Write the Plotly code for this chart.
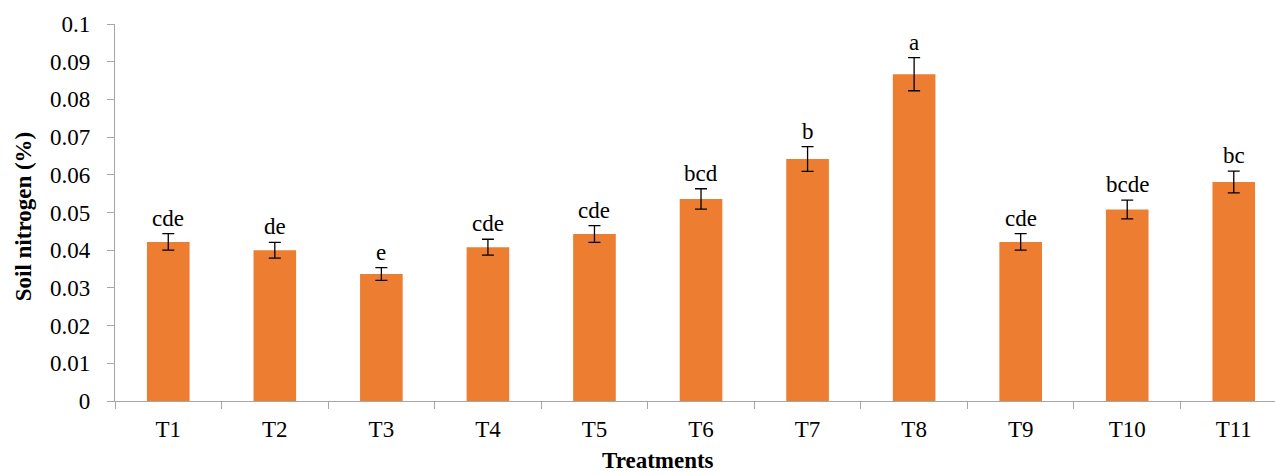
import plotly.graph_objects as go

# Soil nitrogen by treatment
treatments = ["T1", "T2", "T3", "T4", "T5", "T6", "T7", "T8", "T9", "T10", "T11"]
nitrogen = [0.0422, 0.0400, 0.0337, 0.0408, 0.0443, 0.0536, 0.0642, 0.0867, 0.0422, 0.0508, 0.0581]
std_err = [0.0022, 0.0021, 0.0017, 0.0021, 0.0022, 0.0027, 0.0033, 0.0044, 0.0022, 0.0025, 0.0029]
letters = ["cde", "de", "e", "cde", "cde", "bcd", "b", "a", "cde", "bcde", "bc"]
y_ticks = [0, 0.01, 0.02, 0.03, 0.04, 0.05, 0.06, 0.07, 0.08, 0.09, 0.1]
y_tick_text = ["0", "0.01", "0.02", "0.03", "0.04", "0.05", "0.06", "0.07", "0.08", "0.09", "0.1"]

FONT = "'Liberation Serif', 'DejaVu Serif', 'Times New Roman', serif"
W, H = 1275, 474
ML, MT, MB = 115, 24, 73
PLOT_H = H - MT - MB

fig = go.Figure()
fig.add_trace(go.Bar(
    x=treatments,
    y=nitrogen,
    width=0.4,
    marker=dict(color="#ED7D31", line=dict(width=0)),
    error_y=dict(type="data", array=std_err, visible=True,
                 color="#000000", thickness=1.3, width=6),
    showlegend=False,
))

# Significance letters above the error bars
for t, v, e, s in zip(treatments, nitrogen, std_err, letters):
    fig.add_annotation(x=t, y=v + e, text=s, showarrow=False,
                       xref="x", yref="y", yanchor="bottom", yshift=1,
                       font=dict(family=FONT, size=23, color="#000000"))

# Axis titles
fig.add_annotation(text="<b>Soil nitrogen (%)</b>", textangle=-90,
                   xref="paper", yref="paper",
                   x=(23 - ML) / (W - ML), y=0.49,
                   showarrow=False, xanchor="center", yanchor="middle",
                   font=dict(family=FONT, size=23, color="#000000"))
fig.add_annotation(text="<b>Treatments</b>",
                   xref="paper", yref="paper",
                   x=(658 - ML) / (W - ML), y=-MB / PLOT_H,
                   showarrow=False, xanchor="center", yanchor="bottom",
                   borderpad=0,
                   font=dict(family=FONT, size=23, color="#000000"))

fig.update_layout(
    width=W, height=H,
    margin=dict(l=ML, r=0, t=MT, b=MB, pad=0),
    plot_bgcolor="white", paper_bgcolor="white",
    font=dict(family=FONT, size=23, color="#000000"),
    bargap=0.6,
)
fig.update_xaxes(
    type="category",
    range=[-0.5, 10.387],
    showline=True, linecolor="#A6A6A6", linewidth=1.3,
    ticks="outside", tickson="boundaries", ticklen=7,
    tickcolor="#A6A6A6", tickwidth=1.3,
    ticklabelstandoff=7,
    showgrid=False, zeroline=False,
    tickfont=dict(family=FONT, size=23, color="#000000"),
)
fig.update_yaxes(
    range=[0, 0.1],
    tickvals=y_ticks, ticktext=y_tick_text,
    showline=True, linecolor="#A6A6A6", linewidth=1.3,
    ticks="outside", ticklen=7, tickcolor="#A6A6A6", tickwidth=1.3,
    ticklabelstandoff=12,
    showgrid=False, zeroline=False,
    tickfont=dict(family=FONT, size=23, color="#000000"),
)

fig.write_html("out.html")
